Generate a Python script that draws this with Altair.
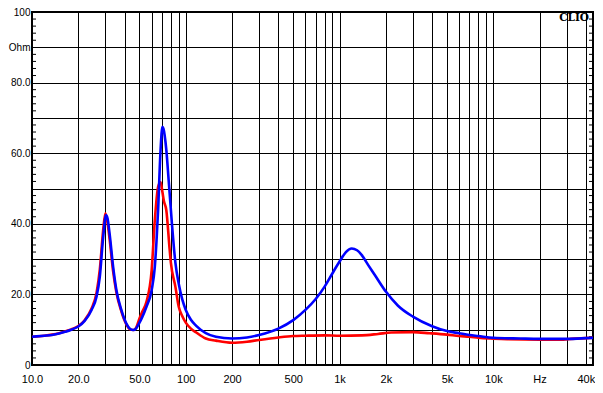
import altair as alt
import pandas as pd

# Impedance curves (Hz, Ohm)
blue_freq = [10, 12, 13.5, 15, 16.4, 18, 20, 22, 24.4, 26.3, 27.6, 29.0, 30.3, 31.0, 32.0, 33.7, 35.4,
             38.1, 41.0, 43.5, 45.5, 47.6, 50, 52, 55.5, 60, 62.9, 64.5, 66.1, 68.4, 70.5, 71.5, 74.7,
             77.5, 78.6, 81.3, 85.6, 90, 95, 100, 108, 117, 135, 157, 200, 250, 300, 400, 500, 600, 700,
             800, 900, 1000, 1100, 1200, 1300, 1391, 1537, 1696, 2000, 2400, 3000, 4000, 5000, 6000,
             7000, 8000, 10000, 15000, 20000, 30000, 40000, 44500]
blue_ohm = [8.0, 8.3, 8.5, 8.9, 9.4, 10.0, 10.9, 12.5, 15.6, 19.4, 25.0, 36.0, 42.5, 41.5, 37.0, 27.8, 21.2,
            15.6, 11.8, 10.2, 9.9, 10.4, 12.0, 13.5, 16.5, 21.2, 27.8, 35.0, 44.0, 60.0, 67.5, 67.0, 61.0,
            52.0, 48.5, 40.0, 29.0, 23.0, 18.5, 15.6, 12.8, 11.1, 9.0, 8.0, 7.5, 7.8, 8.5, 10.3, 12.7, 15.6, 18.7,
            22.2, 26.0, 29.3, 32.0, 33.0, 32.5, 31.2, 28.3, 25.5, 20.8, 16.8, 13.7, 11.0, 9.6, 9.0,
            8.5, 8.2, 7.7, 7.5, 7.4, 7.4, 7.6, 7.7]

red_freq = [10, 12, 13.5, 15, 16.4, 18, 20, 22, 24.4, 26.3, 27.6, 29.0, 30.0, 30.8, 32.0, 33.7, 35.4,
            38.1, 41.0, 43.5, 45.5, 47.6, 50, 52, 55.5, 60, 62.9, 66.1, 68.5, 70.5, 72, 74.7, 78.6, 80,
            85.6, 90, 95, 100, 108, 117, 135, 157, 200, 250, 300, 400, 500, 600, 800, 1000, 1400, 1780,
            2170, 3000, 3840, 5000, 6000, 7000, 8000, 10000, 12300, 20000, 28600, 32000, 40000, 44500]
red_ohm = [8.0, 8.3, 8.6, 9.0, 9.5, 10.1, 11.0, 12.7, 16.0, 20.5, 27.0, 38.0, 43.0, 41.0, 35.5, 26.5, 20.5,
           15.2, 11.6, 10.1, 9.9, 10.6, 13.2, 15.0, 17.9, 26.9, 41.0, 50.5, 51.8, 49.0, 46.5, 43.9, 32.6, 29.0,
           22.2, 16.5, 13.8, 12.0, 10.3, 9.2, 7.5, 6.9, 6.3, 6.6, 7.1, 7.8, 8.2, 8.3, 8.4, 8.3, 8.4, 8.8,
           9.2, 9.3, 9.0, 8.6, 8.2, 8.0, 7.7, 7.45, 7.3, 7.2, 7.2, 7.4, 7.6, 7.7]

x_grid = [m * 10 ** d for d in range(1, 5) for m in range(1, 10) if m * 10 ** d <= 40000]
x_label_vals = [10, 20, 50, 100, 200, 500, 1000, 2000, 5000, 10000, 20000, 40000]
x_label_text = ["10.0", "20.0", "50.0", "100", "200", "500", "1k", "2k", "5k", "10k", "Hz", "40k"]
y_grid = list(range(0, 101, 10))
y_label_vals = [0, 20, 40, 60, 80, 90, 100]
y_label_text = ["0", "20.0", "40.0", "60.0", "80.0", "Ohm", "100"]
minor_ticks = [v for v in range(2, 100, 2) if v % 10]

W, H = 561, 353


def label_expr(vals, texts):
    s = "''"
    for v, t in reversed(list(zip(vals, texts))):
        s = f"datum.value == {v} ? '{t}' : {s}"
    return s


xenc = alt.X("freq:Q",
             scale=alt.Scale(type="log", domain=[10, 44500], nice=False),
             axis=alt.Axis(values=x_grid, labelExpr=label_expr(x_label_vals, x_label_text),
                           title=None, grid=True, ticks=False, domain=False, labelFontSize=11,
                           labelFlush=False, labelOverlap=False, labelPadding=8))
yenc = alt.Y("ohm:Q",
             scale=alt.Scale(domain=[0, 100], nice=False, zero=False),
             axis=alt.Axis(values=y_grid, labelExpr=label_expr(y_label_vals, y_label_text),
                           title=None, grid=True, ticks=False, domain=False, labelFontSize=10,
                           labelFlush=False, labelOverlap=False, labelPadding=2))

blue_df = pd.DataFrame({"freq": blue_freq, "ohm": blue_ohm})
red_df = pd.DataFrame({"freq": red_freq, "ohm": red_ohm})
minor_df = pd.DataFrame({"ohm": minor_ticks})

red_line = alt.Chart(red_df).mark_line(color="#FF0000", strokeWidth=2.6, interpolate="monotone",
                                       clip=True).encode(x=xenc, y=yenc)
blue_line = alt.Chart(blue_df).mark_line(color="#0000FF", strokeWidth=2.6, interpolate="monotone",
                                         clip=True).encode(x=xenc, y=yenc)

left_ticks = alt.Chart(minor_df).mark_rule(color="black", strokeWidth=1).encode(
    y=yenc, x=alt.value(0), x2=alt.value(4))
right_ticks = alt.Chart(minor_df).mark_rule(color="black", strokeWidth=1).encode(
    y=yenc, x=alt.value(W - 4), x2=alt.value(W))

clio = alt.Chart(pd.DataFrame({"t": ["CLIO"]})).mark_text(
    font="DejaVu Serif", fontWeight="bold", fontSize=10.5, align="right", baseline="middle",
    color="black").encode(text="t:N", x=alt.value(W - 4), y=alt.value(6))

chart = alt.layer(left_ticks, right_ticks, red_line, blue_line, clio).properties(
    width=W, height=H,
    autosize=alt.AutoSizeParams(type="none"),
    padding={"left": 24, "top": 4, "right": 2, "bottom": 20},
    background="white",
).configure_view(stroke="black", strokeWidth=2).configure_axis(
    labelFont="Liberation Sans", labelColor="black",
    gridColor="black", gridOpacity=1, gridWidth=1,
)

chart.save("out.html", embed_options={"renderer": "svg", "actions": False})
